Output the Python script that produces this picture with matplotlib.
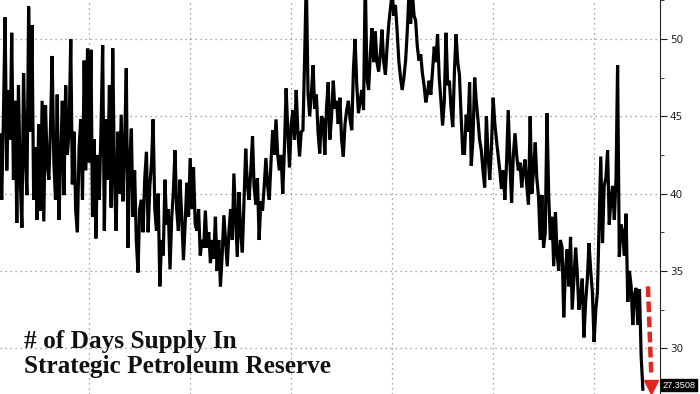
import matplotlib
matplotlib.use('Agg')
import matplotlib.pyplot as plt
import matplotlib.dates as mdates
from matplotlib.ticker import MultipleLocator
import pandas as pd

# monthly days-of-supply readings, Aug 1990 .. Jun 2022 (one row per year)
supply_days = [
    43.8, 39.6, 44.8, 51.4, 41.5, 46.7, 43.5, 50.4, 40.9, 46.0, 38.1, 47.0,
    41.0, 37.8, 47.8, 42.5, 39.9, 52.1, 44.0, 50.9, 39.6, 43.0, 38.3, 44.5,
    38.9, 46.0, 38.2, 45.7, 42.0, 40.9, 44.5, 48.9, 42.0, 39.6, 46.4, 38.3,
    42.0, 46.0, 39.9, 47.0, 42.5, 44.0, 50.0, 40.6, 44.0, 38.9, 37.5, 43.0,
    44.8, 39.6, 48.6, 41.5, 49.4, 42.0, 49.3, 38.5, 43.5, 37.1, 42.5, 39.6,
    44.0, 49.6, 37.6, 44.8, 40.9, 47.0, 39.1, 49.4, 41.0, 37.6, 44.0, 40.0,
    45.1, 39.5, 43.0, 48.1, 36.5, 42.0, 44.2, 38.5, 41.5, 37.0, 34.9, 39.0,
    39.6, 37.5, 41.0, 42.7, 37.5, 40.5, 42.0, 44.8, 39.0, 37.6, 40.0, 34.0,
    37.0, 36.0, 40.9, 38.0, 39.0, 35.1, 38.5, 40.0, 42.8, 39.0, 37.6, 40.9,
    38.5, 35.7, 38.0, 40.7, 38.5, 42.3, 39.0, 41.7, 38.0, 37.6, 39.0, 36.0,
    37.0, 36.5, 38.9, 36.5, 37.5, 35.5, 37.0, 35.8, 38.5, 35.0, 37.0, 34.0,
    36.0, 38.6, 37.0, 35.3, 37.5, 39.0, 37.0, 41.3, 38.5, 35.9, 40.1, 37.5,
    36.2, 39.5, 42.9, 40.5, 39.6, 41.5, 43.7, 40.5, 39.3, 41.0, 37.0, 39.5,
    38.9, 40.5, 42.3, 40.5, 39.6, 42.0, 44.1, 42.5, 44.8, 42.5, 41.5, 42.5,
    40.0, 43.0, 46.8, 44.0, 41.7, 44.5, 45.4, 43.5, 46.7, 44.0, 42.4, 44.0,
    44.1, 48.8, 54.0, 46.5, 45.0, 46.5, 48.3, 45.5, 46.4, 44.0, 42.6, 45.0,
    44.8, 42.5, 45.5, 47.2, 43.5, 45.0, 47.3, 45.5, 46.0, 44.5, 46.2, 43.5,
    42.4, 44.5, 45.4, 46.0, 44.8, 44.1, 48.1, 50.0, 47.0, 45.2, 46.0, 46.7,
    45.4, 54.0, 47.5, 46.7, 49.0, 50.7, 48.5, 50.5, 48.5, 47.9, 49.0, 50.6,
    48.5, 47.7, 49.5, 51.0, 52.0, 53.0, 51.5, 52.2, 50.5, 48.6, 47.5, 46.7,
    47.5, 48.6, 50.5, 53.0, 51.0, 53.0, 51.5, 51.2, 49.5, 48.6, 49.0, 47.8,
    47.0, 45.9, 46.5, 47.3, 46.4, 48.0, 49.5, 48.5, 50.3, 47.5, 46.0, 44.4,
    46.0, 50.4, 47.0, 47.3, 45.5, 44.3, 48.0, 50.3, 48.5, 47.7, 45.0, 42.6,
    42.6, 45.1, 44.0, 47.2, 41.8, 43.5, 47.5, 46.0, 44.8, 43.5, 42.8, 41.5,
    40.4, 45.0, 42.5, 40.9, 43.0, 46.2, 44.5, 43.5, 42.5, 41.5, 40.3, 41.5,
    39.6, 42.0, 45.4, 42.0, 39.4, 42.5, 43.9, 42.5, 41.5, 42.0, 40.4, 41.5,
    42.2, 40.5, 39.3, 45.0, 40.0, 41.5, 43.3, 41.0, 39.8, 37.0, 39.9, 36.5,
    37.5, 45.2, 40.0, 37.0, 38.5, 35.3, 38.8, 36.2, 35.0, 37.0, 36.5, 32.0,
    35.0, 36.4, 34.0, 37.2, 32.5, 34.5, 36.5, 35.0, 32.5, 33.3, 34.5, 30.7,
    33.0, 34.5, 36.8, 35.0, 33.6, 30.4, 32.5, 33.6, 38.0, 42.4, 36.8, 40.5,
    41.0, 42.8, 38.0, 39.6, 40.5, 38.3, 41.0, 48.3, 35.9, 38.0, 37.5, 36.0,
    38.7, 33.0, 35.0, 34.0, 31.5, 33.5, 33.9, 31.5, 33.8, 29.5, 27.35,
]
last_label = '27.3508'
title = '# of Days Supply In\nStrategic Petroleum Reserve'

dates = pd.date_range('1990-08-01', periods=len(supply_days), freq='MS')

fig = plt.figure(figsize=(7, 3.94), dpi=100)
ax = fig.add_axes([0, 0, 660 / 700, 1])

ax.plot(dates, supply_days, color='black', lw=2.3, solid_joinstyle='miter')

ax.set_xlim(pd.Timestamp('1990-08-01'), pd.Timestamp('2023-04-07'))
ax.set_ylim(27.04, 52.52)

ax.xaxis.set_major_locator(mdates.YearLocator(5))
ax.tick_params(axis='x', length=0, labelbottom=False)
ax.yaxis.set_major_locator(MultipleLocator(5))
ax.yaxis.set_minor_locator(MultipleLocator(2.5))
ax.yaxis.tick_right()
ax.tick_params(axis='y', which='major', direction='out', length=5, width=0.8,
               colors='#222222', labelsize=7.5, pad=2)
ax.tick_params(axis='y', which='minor', direction='out', length=3, width=0.6,
               colors='#222222')
ax.grid(True, which='major', color='#8a8a8a', linestyle=(0, (1, 3)), lw=0.9)

for s in ['left', 'top', 'bottom']:
    ax.spines[s].set_visible(False)
ax.spines['right'].set_color('#222222')
ax.spines['right'].set_linewidth(0.8)

# last value tag
ax.annotate(last_label, xy=(1, supply_days[-1]),
            xycoords=('axes fraction', 'data'), xytext=(2, 3),
            textcoords='offset points', ha='left', va='center',
            fontsize=6.6, color='white', family='Liberation Sans',
            bbox=dict(boxstyle='square,pad=0.15', fc='black', ec='black'),
            annotation_clip=False)

# red dashed arrow
x0 = dates[-1] + pd.DateOffset(months=3)
x1 = dates[-1] + pd.DateOffset(months=5)
ax.plot([x0, x1], [34.0, 28.2], color='#e3261f', lw=3.2, dashes=(2.4, 1.0))
ax.plot([x1], [27.5], marker='v', ms=10, color='#e3261f', mec='#e3261f')

ax.text(0.036, 0.04, title, transform=ax.transAxes, ha='left', va='bottom',
        fontsize=18.2, fontweight='bold', family='Liberation Serif',
        color='#111111', linespacing=1.1)

fig.savefig('out.png', dpi=100)
